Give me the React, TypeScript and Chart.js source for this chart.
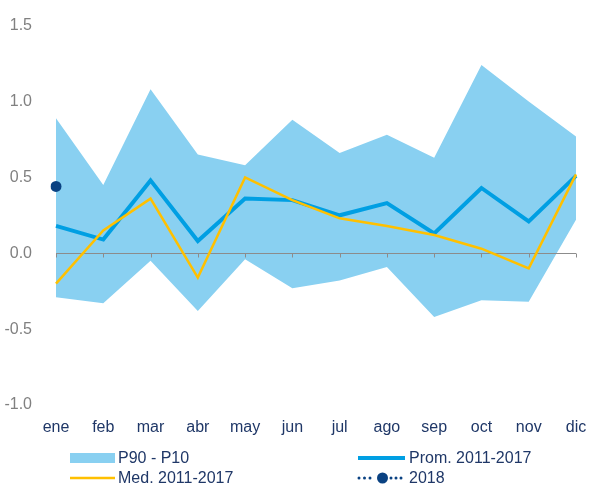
import React, { useEffect, useRef } from "react";
import { Chart, registerables } from "chart.js";

Chart.register(...registerables);

const months = ["ene", "feb", "mar", "abr", "may", "jun", "jul", "ago", "sep", "oct", "nov", "dic"];
const p90 = [0.89, 0.45, 1.08, 0.65, 0.58, 0.88, 0.66, 0.78, 0.63, 1.24, 1.0, 0.77];
const p10 = [-0.29, -0.33, -0.05, -0.38, -0.04, -0.23, -0.18, -0.09, -0.42, -0.31, -0.32, 0.22];
const prom = [0.18, 0.09, 0.48, 0.08, 0.36, 0.35, 0.25, 0.33, 0.13, 0.43, 0.21, 0.51];
const med = [-0.2, 0.15, 0.36, -0.16, 0.5, 0.35, 0.23, 0.18, 0.12, 0.03, -0.1, 0.52];
const y2018 = [0.44, null, null, null, null, null, null, null, null, null, null, null];
const yTicks = [-1.0, -0.5, 0.0, 0.5, 1.0, 1.5];

const BAND = "#89D0F1";
const BLUE = "#009FE3";
const YELLOW = "#FFC000";
const NAVY = "#0A4282";
const TEXT = "#1F3767";
const GRAY = "#808080";
const FONT = "'Liberation Sans', Arial, sans-serif";

const zeroAxis = {
  id: "zeroAxis",
  beforeDatasetsDraw(chart: any) {
    const { ctx, scales } = chart;
    const x = scales.x;
    const y = scales.y;
    const y0 = Math.round(y.getPixelForValue(0)) + 0.5;
    ctx.save();
    ctx.strokeStyle = "#8C8C8C";
    ctx.lineWidth = 1;
    ctx.beginPath();
    ctx.moveTo(x.getPixelForValue(0), y0);
    ctx.lineTo(x.getPixelForValue(months.length - 1), y0);
    for (let i = 0; i < months.length; i++) {
      const px = Math.round(x.getPixelForValue(i)) + 0.5;
      ctx.moveTo(px, y0);
      ctx.lineTo(px, y0 + 4);
    }
    ctx.stroke();
    ctx.restore();
  },
};

export default function App() {
  const ref = useRef<HTMLCanvasElement | null>(null);

  useEffect(() => {
    document.body.style.margin = "0";
    const chart = new Chart(ref.current as HTMLCanvasElement, {
      type: "line",
      data: {
        labels: months,
        datasets: [
          { label: "P90", data: p90, fill: "+1", backgroundColor: BAND, borderWidth: 0, pointRadius: 0, order: 10, tension: 0 },
          { label: "P10", data: p10, fill: false, borderWidth: 0, pointRadius: 0, order: 11, tension: 0 },
          { label: "Prom. 2011-2017", data: prom, borderColor: BLUE, borderWidth: 4, pointRadius: 0, fill: false, order: 3, tension: 0 },
          { label: "Med. 2011-2017", data: med, borderColor: YELLOW, borderWidth: 2.5, pointRadius: 0, fill: false, order: 2, tension: 0 },
          { label: "2018", data: y2018, borderColor: NAVY, backgroundColor: NAVY, borderWidth: 2, borderDash: [1, 4], pointRadius: 5.5, pointBorderWidth: 0, fill: false, order: 1, showLine: true },
        ],
      },
      options: {
        animation: false,
        responsive: false,
        maintainAspectRatio: false,
        layout: { padding: { top: 21, right: 27, left: 0, bottom: 0 } },
        plugins: {
          legend: { display: false },
          tooltip: { enabled: false },
          filler: { drawTime: "beforeDatasetsDraw" },
        } as any,
        scales: {
          x: {
            offset: false,
            grid: { display: false },
            border: { display: false },
            ticks: { color: TEXT, font: { family: FONT, size: 16 }, padding: 5, maxRotation: 0, autoSkip: false },
            afterFit: (s: any) => { s.height = 81; },
          },
          y: {
            min: -1.0,
            max: 1.5,
            grid: { display: false },
            border: { display: false },
            afterBuildTicks: (s: any) => { s.ticks = yTicks.map((v) => ({ value: v })); },
            ticks: {
              color: GRAY,
              font: { family: FONT, size: 16 },
              padding: 16,
              callback: (v: any) => Number(v).toFixed(1),
            },
            afterFit: (s: any) => { s.width = 56; },
          },
        },
      },
      plugins: [zeroAxis],
    } as any);
    return () => chart.destroy();
  }, []);

  const textStyle: React.CSSProperties = {
    position: "absolute",
    fontFamily: FONT,
    fontSize: 16,
    lineHeight: "18px",
    color: TEXT,
    whiteSpace: "nowrap",
  };

  return (
    <div style={{ position: "relative", width: 603, height: 486, overflow: "hidden" }}>
      <canvas ref={ref} width={603} height={486} style={{ position: "absolute", left: 0, top: 0 }} />
      <svg width={603} height={486} style={{ position: "absolute", left: 0, top: 0, pointerEvents: "none" }}>
        <rect x={70} y={453} width={45} height={10} fill={BAND} />
        <line x1={70} y1={478} x2={115} y2={478} stroke={YELLOW} strokeWidth={2.5} />
        <line x1={358} y1={458} x2={405} y2={458} stroke={BLUE} strokeWidth={4} />
        {[359, 364.5, 370, 391, 396, 401].map((cx) => (
          <circle key={cx} cx={cx} cy={478} r={1.5} fill={NAVY} />
        ))}
        <circle cx={382.5} cy={478} r={5.5} fill={NAVY} />
      </svg>
      <div style={{ ...textStyle, left: 118, top: 449 }}>P90 - P10</div>
      <div style={{ ...textStyle, left: 118, top: 469 }}>Med. 2011-2017</div>
      <div style={{ ...textStyle, left: 409, top: 449 }}>Prom. 2011-2017</div>
      <div style={{ ...textStyle, left: 409, top: 469 }}>2018</div>
    </div>
  );
}
